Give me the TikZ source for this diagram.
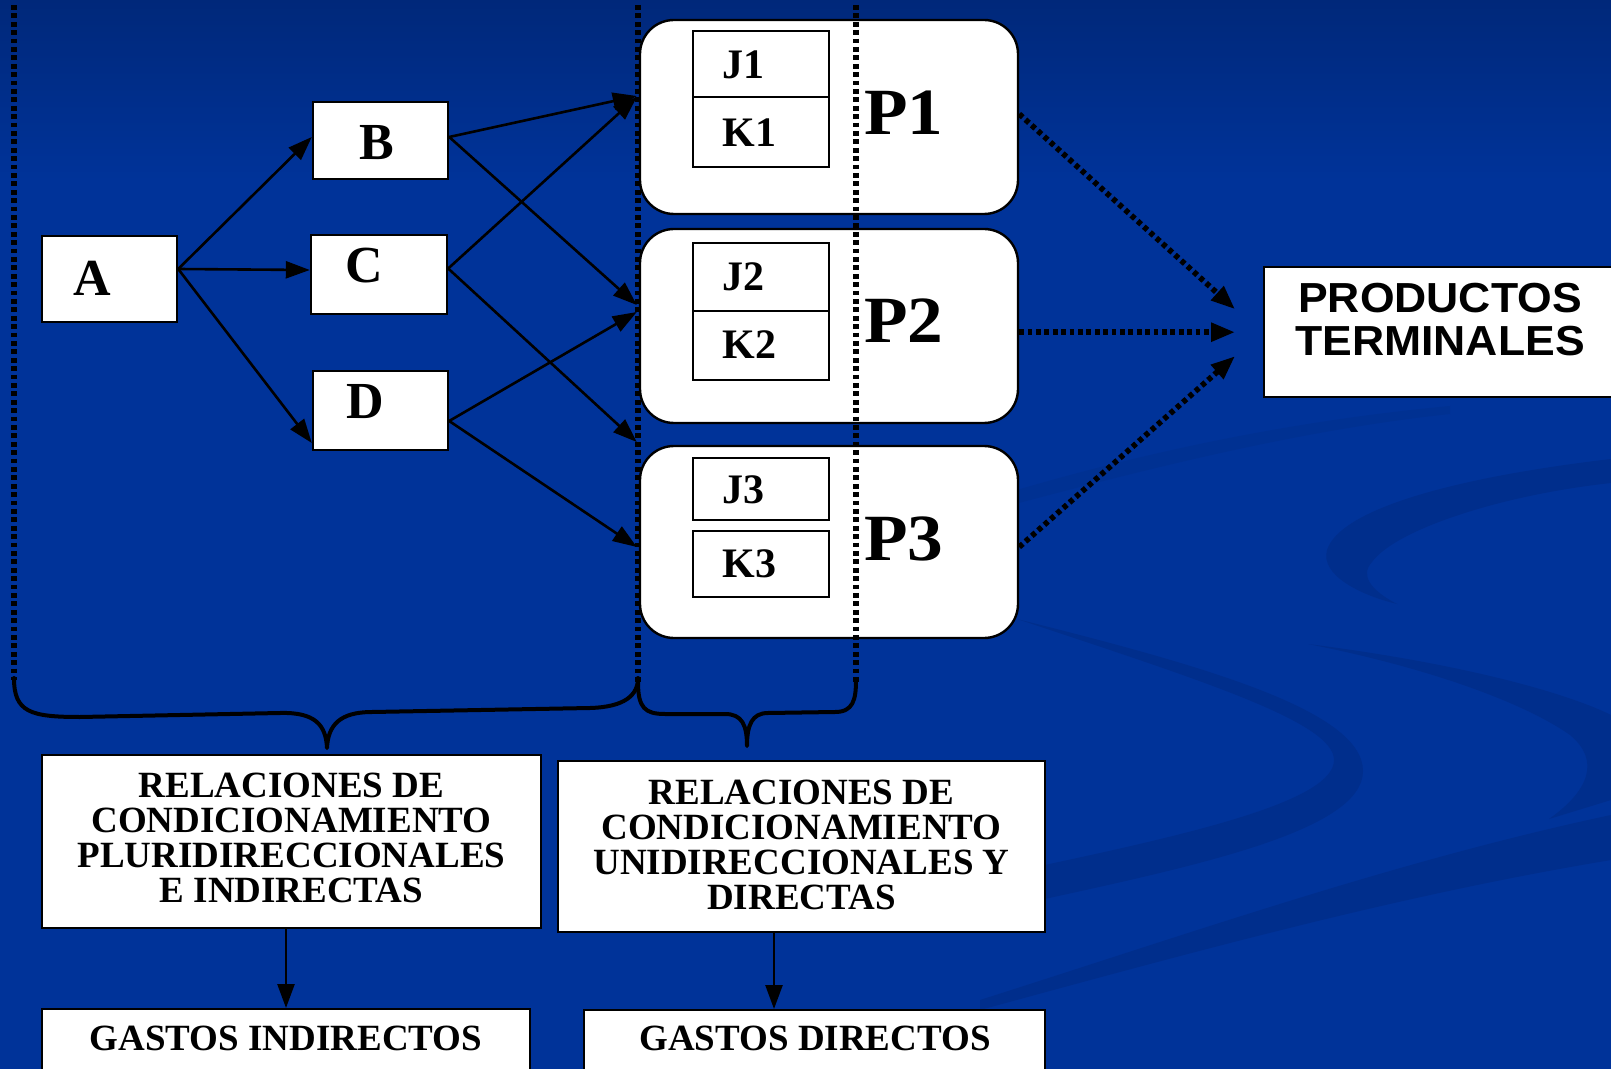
\documentclass[tikz,border=0pt]{standalone}
\usepackage{fontspec}
\setmainfont{Liberation Serif}
\newfontfamily\prodfont[FakeStretch=1.06]{Liberation Sans}
\newfontfamily\pfont[FakeStretch=1.08]{Liberation Serif}
\usetikzlibrary{arrows.meta}

\definecolor{bgblue}{HTML}{003399}
\definecolor{bgtop}{HTML}{00287A}
\definecolor{bgband}{HTML}{002E8C}
\definecolor{bgbandlt}{HTML}{003192}

\begin{document}
\begin{tikzpicture}[
    x=0.5pt, y=-0.5pt,
    every node/.style={inner sep=0pt},
    box/.style={draw, fill=white, line width=1.2pt},
    pbox/.style={draw, fill=white, line width=1.2pt, rounded corners=17pt, minimum width=189pt},
    jkbox/.style={draw, fill=white, line width=1.2pt, minimum width=68pt},
    letter/.style={font=\fontsize{26}{26}\selectfont\bfseries},
    jk/.style={font=\fontsize{21}{21}\selectfont\bfseries, anchor=west},
    plabel/.style={font=\pfont\fontsize{33}{33}\selectfont\bfseries, anchor=west},
    reltext/.style={font=\fontsize{18.5}{17.5}\selectfont\bfseries, align=center},
    prodtext/.style={font=\prodfont\fontsize{21}{21.5}\selectfont\bfseries, align=center},
    flow/.style={draw, line width=1.3pt, -{Triangle[length=12pt,width=8.5pt]}},
    dotline/.style={draw, line width=2.8pt, dash pattern=on 2.4pt off 1.8pt},
    dotflow/.style={dotline, -{Triangle[length=12pt,width=9pt]}},
    brace/.style={draw, line width=2pt, line join=round, line cap=round}
  ]

  % Background with swirls
  \useasboundingbox (0,0) rectangle (1611,1069);
  \fill[bgblue] (0,0) rectangle (1611,1069);
  \shade[top color=bgtop, bottom color=bgblue] (0,0) rectangle (1611,180);
  \fill[bgbandlt] (1000,495) .. controls (1150,450) and (1300,420) .. (1450,406)
    -- (1450,414) .. controls (1300,430) and (1150,468) .. (1000,508) -- cycle;
  \fill[bgband] (1611,459) .. controls (1450,478) and (1340,510) .. (1327,550)
    .. controls (1320,575) and (1360,595) .. (1397,604)
    .. controls (1370,590) and (1360,575) .. (1372,562)
    .. controls (1395,530) and (1500,495) .. (1611,483) -- cycle;
  \fill[bgband] (1017,619) .. controls (1200,665) and (1363,710) .. (1363,771)
    .. controls (1363,830) and (1200,865) .. (1040,900) -- (1040,866)
    .. controls (1200,832) and (1334,800) .. (1334,760)
    .. controls (1334,722) and (1200,680) .. (1017,619) -- cycle;
  \fill[bgband] (1308,644) .. controls (1450,662) and (1560,690) .. (1611,715)
    -- (1611,800) -- (1549,819) .. controls (1590,790) and (1600,760) .. (1570,735)
    .. controls (1520,700) and (1420,666) .. (1308,644) -- cycle;
  \fill[bgband] (980,1000) .. controls (1200,930) and (1400,860) .. (1611,815)
    -- (1611,860) .. controls (1400,895) and (1200,950) .. (980,1010) -- cycle;

  % Origin A and intermediate B, C, D
  \node[box, minimum width=67.5pt, minimum height=43pt] (A) at (109.5,279) {};
  \node[letter] (tA) at (92,278.5) {A};
  \node[box, minimum width=67.5pt, minimum height=38.5pt] (B) at (380.5,140.5) {};
  \node[letter] (tB) at (377,143) {B};
  \node[box, minimum width=68pt, minimum height=39.5pt] (C) at (379,274.5) {};
  \node[letter] (tC) at (364,265.5) {C};
  \node[box, minimum width=67.5pt, minimum height=39.5pt] (D) at (380.5,410.5) {};
  \node[letter] (tD) at (365.5,402) {D};

  % Products P1, P2, P3 with their J and K parts
  \node[pbox, minimum height=97pt] (P1) at (829,117) {};
  \node[pbox, minimum height=97pt] (P2) at (829,326) {};
  \node[pbox, minimum height=96pt] (P3) at (829,542) {};
  \node[jkbox, minimum height=33pt] (J1) at (761,64) {};
  \node[jkbox, minimum height=35pt] (K1) at (761,132) {};
  \node[jkbox, minimum height=34pt] (J2) at (761,277) {};
  \node[jkbox, minimum height=34.5pt] (K2) at (761,345.5) {};
  \node[jkbox, minimum height=31pt] (J3) at (761,489) {};
  \node[jkbox, minimum height=33pt] (K3) at (761,564) {};
  \node[jk] (tJ1) at (722,65) {J1};
  \node[jk] (tK1) at (722,133) {K1};
  \node[jk] (tJ2) at (722,277) {J2};
  \node[jk] (tK2) at (722,344.5) {K2};
  \node[jk] (tJ3) at (722,489.5) {J3};
  \node[jk] (tK3) at (722,564) {K3};
  \node[plabel] (tP1) at (864,113) {P1};
  \node[plabel] (tP2) at (864,321) {P2};
  \node[plabel] (tP3) at (864,538.5) {P3};

  % Terminal products
  \node[box, minimum width=180pt, minimum height=65pt, anchor=north west] (PT) at (1263,266) {};
  \node[prodtext] (tPT) at (1440,319.5) {PRODUCTOS\\TERMINALES};

  % Dotted limits of both groups
  \draw[dotline] (14,5) -- (14,680);
  \draw[dotline] (638,5) -- (638,682);
  \draw[dotline] (856,5) -- (856,682);

  % Braces
  \draw[brace] (14,678) .. controls (14,712) and (30,717) .. (80,717) -- (280,713)
    .. controls (315,712) and (326,725) .. (327,748)
    .. controls (328,725) and (340,712) .. (372,712) -- (590,708)
    .. controls (625,707) and (638,695) .. (638,678);
  \draw[brace] (638,682) .. controls (638,708) and (645,714) .. (665,714) -- (725,714)
    .. controls (742,714) and (747,725) .. (747,746)
    .. controls (747,725) and (752,713) .. (768,713) -- (835,712)
    .. controls (853,712) and (856,700) .. (856,680);

  % Relations boxes and expenses
  \node[box, minimum width=249.5pt, minimum height=86.5pt] (R1) at (291.5,841.5) {};
  \node[reltext] (tR1) at (291.5,837.5)
    {RELACIONES DE\\CONDICIONAMIENTO\\PLURIDIRECCIONALES\\E INDIRECTAS};
  \node[box, minimum width=243.5pt, minimum height=85.5pt] (R2) at (801.5,846.5) {};
  \node[reltext] (tR2) at (801.5,844.5)
    {RELACIONES DE\\CONDICIONAMIENTO\\UNIDIRECCIONALES Y\\DIRECTAS};
  \node[box, minimum width=244pt, minimum height=60pt, anchor=north] (G1) at (286,1008) {};
  \node[reltext] (tG1) at (286,1038) {GASTOS INDIRECTOS};
  \node[box, minimum width=230.5pt, minimum height=60pt, anchor=north] (G2) at (814.5,1009) {};
  \node[reltext] (tG2) at (815,1038) {GASTOS DIRECTOS};

  % A to B, C, D
  \draw[flow] ([yshift=5pt]A.east) -- ([yshift=1.75pt]B.west);
  \draw[flow] ([yshift=5pt]A.east) -- ([yshift=2.25pt]C.west);
  \draw[flow] ([yshift=5pt]A.east) -- ([yshift=-16.25pt]D.west);
  % B, C, D to products
  \draw[flow] ([yshift=1.75pt]B.east) -- ([xshift=-1pt,yshift=10.5pt]P1.west);
  \draw[flow] ([yshift=1.75pt]B.east) -- ([xshift=-1pt,yshift=10.5pt]P2.west);
  \draw[flow] ([yshift=3pt]C.east) -- ([xshift=-1pt,yshift=10pt]P1.west);
  \draw[flow] ([yshift=3pt]C.east) -- ([xshift=-1pt,yshift=50pt]P3.west);
  \draw[flow] ([yshift=-5.25pt]D.east) -- ([xshift=-1pt,yshift=7pt]P2.west);
  \draw[flow] ([yshift=-5.25pt]D.east) -- ([xshift=-1pt,yshift=-2.5pt]P3.west);
  % Products to terminal products
  \draw[dotflow] ([yshift=1.5pt]P1.east) -- ([xshift=-14pt,yshift=11.5pt]PT.west);
  \draw[dotflow] (P2.east |- PT.west) -- ([xshift=-14pt]PT.west);
  \draw[dotflow] ([yshift=-2.5pt]P3.east) -- ([xshift=-14pt,yshift=-12pt]PT.west);
  % Relations to expenses
  \draw[flow] (R1.south -| G1.north) -- (G1.north);
  \draw[flow] ([xshift=-13.75pt]R2.south) -- ([xshift=-13.75pt]R2.south |- G2.north);

\end{tikzpicture}
\end{document}
